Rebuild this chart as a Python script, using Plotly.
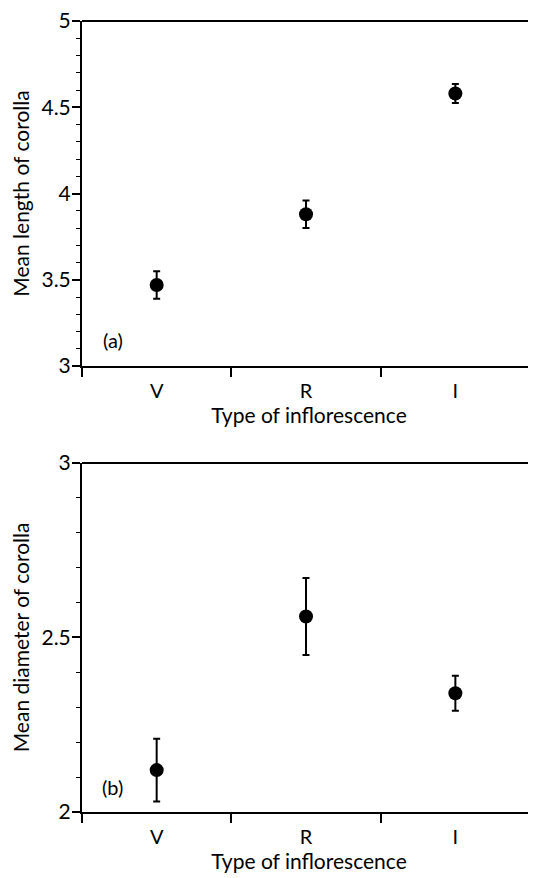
import plotly.graph_objects as go
from plotly.subplots import make_subplots

categories = ["V", "R", "I"]
length_mean = [3.47, 3.88, 4.58]
length_err = [0.08, 0.08, 0.055]
diameter_mean = [2.12, 2.56, 2.34]
diameter_err = [0.09, 0.11, 0.05]

FONT = "Lato"
pos = list(range(len(categories)))

fig = make_subplots(rows=2, cols=1, vertical_spacing=0.12)

for row, (m, e) in enumerate([(length_mean, length_err), (diameter_mean, diameter_err)], start=1):
    fig.add_trace(go.Scatter(
        x=pos, y=m, mode="markers",
        marker=dict(size=14, color="black", symbol="circle"),
        error_y=dict(type="data", array=e, visible=True, color="black", thickness=2, width=3.5),
        showlegend=False, hoverinfo="skip"), row=row, col=1)

xcommon = dict(range=[-0.5, 2.54], tickmode="array", tickvals=pos, ticktext=categories,
               ticks="", showline=True, linecolor="black", linewidth=2, mirror=False,
               showgrid=False, zeroline=False, automargin=False, ticklabelstandoff=6,
               tickfont=dict(family=FONT, size=20, color="black"),
               minor=dict(tickmode="array", tickvals=[-0.5, 0.5, 1.5], ticks="outside",
                          ticklen=9, tickwidth=1.5, tickcolor="black", showgrid=False),
               title=dict(text="Type of inflorescence", font=dict(family=FONT, size=21, color="black"), standoff=1))
fig.update_xaxes(**xcommon)

ycommon = dict(showline=True, linecolor="black", linewidth=2, showgrid=False, zeroline=False,
               ticks="outside", ticklen=8, tickwidth=1.5, tickcolor="black", automargin=False,
               ticklabelstandoff=-3, ticklabeloverflow="allow",
               tickfont=dict(family=FONT, size=21, color="black"))
fig.update_yaxes(**ycommon)
fig.update_yaxes(range=[3, 5], tickvals=[3, 3.5, 4, 4.5, 5], ticktext=["3", "3.5", "4", "4.5", "5"],
                 minor=dict(dtick=0.1, tick0=3, ticks="outside", ticklen=4, tickwidth=1, tickcolor="black"),
                 title=dict(text="Mean length of corolla", font=dict(family=FONT, size=21, color="black"), standoff=7),
                 row=1, col=1)
fig.update_yaxes(range=[2, 3], tickvals=[2, 2.5, 3], ticktext=["2", "2.5", "3"],
                 minor=dict(dtick=0.1, tick0=2, ticks="outside", ticklen=4, tickwidth=1, tickcolor="black"),
                 title=dict(text="Mean diameter of corolla", font=dict(family=FONT, size=21, color="black"), standoff=7),
                 row=2, col=1)

# top border lines
for yref in ["y domain", "y2 domain"]:
    xr = "x domain" if yref == "y domain" else "x2 domain"
    fig.add_shape(type="line", xref=xr, yref=yref, x0=0, x1=1, y0=1, y1=1,
                  line=dict(color="black", width=2))

fig.add_annotation(text="(a)", x=-0.295, y=3.15, xref="x", yref="y", showarrow=False,
                   font=dict(family=FONT, size=20, color="black"))
fig.add_annotation(text="(b)", x=-0.295, y=2.073, xref="x2", yref="y2", showarrow=False,
                   font=dict(family=FONT, size=20, color="black"))

# page body has an 8px margin, so the figure is shifted/shrunk to land at the same page spot
fig.update_layout(width=528, height=870, plot_bgcolor="white", paper_bgcolor="white",
                  margin=dict(l=74, r=0, t=13, b=66))
fig.update_layout(yaxis=dict(domain=[0.5638, 1.0]), yaxis2=dict(domain=[0.0, 0.4413]))

fig.write_html("out.html")
